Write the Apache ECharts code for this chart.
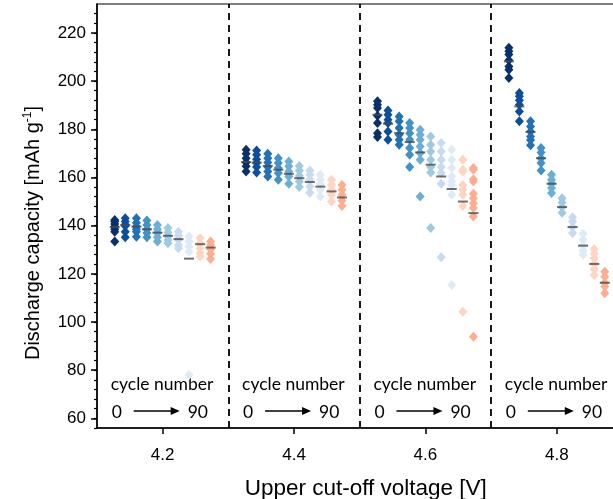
<!DOCTYPE html>
<html><head><meta charset="utf-8">
<script src="https://cdn.jsdelivr.net/npm/echarts@6/dist/echarts.min.js"></script>
<style>html,body{margin:0;padding:0;background:#fff}#c{width:613px;height:499px}</style>
</head><body><div id="c"></div>
<script>
// ---- data ----
const voltages = [4.2, 4.4, 4.6, 4.8];
const cycleNumbers = [0, 10, 20, 30, 40, 50, 60, 70, 80, 90];
const cycleOffsets = [-0.073, -0.057, -0.040, -0.024, -0.008, 0.008, 0.024, 0.040, 0.057, 0.073];

const cap42 = [
  [142.3, 141.7, 140.7, 139.6, 138.5, 137.5, 133.4],
  [143.1, 141.7, 140.5, 139.9, 137.5, 135.2],
  [143.1, 141.2, 139.6, 138.5, 137.5, 135.4],
  [142.1, 140.3, 138.5, 136.9, 135.2],
  [140.3, 138.5, 136.9, 135.2, 133.4],
  [139.0, 137.1, 135.5, 134.0, 132.7],
  [137.5, 135.8, 134.1, 132.0, 130.6],
  [135.5, 133.4, 131.3, 129.2, 78.0],
  [134.8, 132.7, 130.6, 128.6, 127.2],
  [133.4, 132.0, 130.2, 128.3, 126.1]
];
const mean42 = [139.4, 140.2, 139.6, 138.5, 137.1, 135.8, 134.4, 126.3, 132.3, 130.9];

const cap44 = [
  [171.5, 169.8, 168.0, 166.2, 164.6, 162.5],
  [171.2, 169.4, 167.6, 166.0, 164.3, 162.1],
  [169.8, 168.0, 166.2, 164.3, 162.5, 160.4],
  [168.0, 166.0, 163.9, 161.8, 159.0],
  [166.6, 164.6, 162.5, 160.4, 157.4],
  [164.8, 162.9, 160.7, 158.3, 156.0],
  [162.9, 161.1, 159.0, 156.2, 153.7],
  [161.1, 159.0, 157.4, 154.9, 152.1],
  [159.0, 156.9, 154.9, 152.8, 150.0],
  [156.9, 154.9, 152.8, 150.4, 148.2]
];
const mean44 = [166.4, 166.2, 164.8, 163.2, 161.5, 159.7, 158.1, 156.2, 154.2, 151.7];

const cap46 = [
  [191.6, 190.2, 188.8, 185.6, 182.6, 178.4, 176.8],
  [187.8, 186.0, 184.0, 182.6, 179.1, 175.7],
  [185.3, 183.3, 180.5, 177.7, 175.7, 173.6],
  [182.6, 180.5, 178.4, 175.7, 172.2, 169.4, 164.3],
  [179.8, 177.7, 175.7, 172.9, 170.1, 167.3, 152.1],
  [177.0, 173.6, 170.8, 167.3, 164.3, 162.1, 139.0],
  [174.3, 170.8, 167.3, 164.3, 161.8, 157.4, 126.9],
  [171.5, 167.3, 163.9, 160.4, 158.3, 156.9, 152.8, 115.4],
  [167.3, 163.2, 162.5, 156.9, 154.9, 152.8, 148.2, 104.3],
  [163.9, 163.2, 159.3, 158.3, 153.2, 151.4, 149.3, 147.3, 143.8, 93.9]
];
const mean46 = [186.0, 182.3, 178.4, 174.7, 170.4, 165.3, 160.4, 155.2, 150.0, 145.2];

const cap48 = [
  [213.8, 212.4, 211.0, 208.6, 206.1, 204.7, 201.3],
  [195.1, 193.7, 192.0, 190.2, 187.4, 183.3],
  [183.3, 181.2, 179.1, 177.0, 175.5, 173.4],
  [172.2, 170.4, 168.0, 166.0, 162.9],
  [161.1, 159.0, 157.4, 155.6, 153.5],
  [151.4, 149.6, 147.7, 145.4],
  [143.5, 141.7, 139.4, 136.9],
  [136.6, 134.1, 131.7, 129.6, 127.9],
  [130.2, 128.3, 126.5, 124.1, 121.9, 119.5],
  [120.9, 118.8, 116.3, 114.7, 111.9]
];
const mean48 = [208.2, 189.5, 178.9, 168.0, 157.4, 147.7, 139.4, 131.7, 124.1, 116.3];

const dividers = [4.3, 4.505, 4.7];
const xTicks = [4.2, 4.4, 4.6, 4.8];
const yTicks = [60, 80, 100, 120, 140, 160, 180, 200, 220];
const yMinorTicks = [];
for (let t = 56; t <= 228; t += 4) yMinorTicks.push(t);

// ---- style ----
const cycleColors = ['#08306b', '#0b4f9c', '#2171b5', '#4292c6', '#6baed6',
                     '#9ecae1', '#c6dbef', '#deebf7', '#fdd5c0', '#fcae91'];
const axisFont = 'Liberation Sans, Arial, sans-serif';
const noteFont = 'Lato, Carlito, sans-serif';

const caps = [cap42, cap44, cap46, cap48];
const means = [mean42, mean44, mean46, mean48];

const series = [];
cycleNumbers.forEach((cn, i) => {
  const data = [];
  voltages.forEach((v, k) => {
    caps[k][i].forEach(y => data.push([v + cycleOffsets[i], y]));
  });
  series.push({
    name: 'cycle ' + cn, type: 'scatter', data,
    symbol: 'diamond', symbolSize: [9, 10],
    itemStyle: { color: cycleColors[i], opacity: 1 },
    z: 2, silent: true
  });
});
const meanData = [];
voltages.forEach((v, k) => means[k].forEach((m, i) => meanData.push([v + cycleOffsets[i], m])));
series.push({
  name: 'mean', type: 'scatter', data: meanData, symbol: 'rect', symbolSize: [10, 2],
  itemStyle: { color: '#4a4a4a' }, z: 5, silent: true
});
series.push({
  name: 'dividers', type: 'scatter', data: [], silent: true,
  markLine: {
    symbol: 'none', silent: true, label: { show: false },
    lineStyle: { color: '#000', type: [7, 5], width: 1.8 },
    data: dividers.map(x => ({ xAxis: x }))
  }
});

const chart = echarts.init(document.getElementById('c'), null, { renderer: 'canvas' });
chart.setOption({
  animation: false,
  grid: { left: 97, top: 4, width: 525.5, height: 424, outerBoundsMode: 'none', containLabel: false,
          show: true, borderColor: '#000', borderWidth: 1.2, backgroundColor: 'transparent' },
  xAxis: {
    type: 'value', min: 4.1, max: 4.9,
    name: 'Upper cut-off voltage [V]', nameLocation: 'middle', nameGap: 49,
    nameTextStyle: { fontFamily: axisFont, fontSize: 22.5, color: '#000', padding: [0, 0, 0, 12] },
    axisLine: { show: true, lineStyle: { color: '#000', width: 1.5 } },
    axisTick: { show: true, inside: false, length: 6, customValues: xTicks, lineStyle: { color: '#000', width: 1.5 } },
    axisLabel: { customValues: xTicks, fontFamily: axisFont, fontSize: 17, color: '#000', margin: 19, formatter: v => v.toFixed(1) },
    splitLine: { show: false }
  },
  yAxis: [{
    type: 'value', min: 56, max: 232, position: 'left',
    name: 'Discharge capacity [mAh g{sup|-1}]', nameLocation: 'middle', nameGap: 53,
    nameTextStyle: { fontFamily: axisFont, fontSize: 20, color: '#000', padding: [0, 34, 0, 0],
      rich: { sup: { fontFamily: axisFont, fontSize: 12, color: '#000', padding: [0, 0, 10, 0] } } },
    axisLine: { show: true, lineStyle: { color: '#000', width: 1.5 } },
    axisTick: { show: true, length: 6, customValues: yTicks, lineStyle: { color: '#000', width: 1.5 } },
    axisLabel: { customValues: yTicks, fontFamily: axisFont, fontSize: 17, color: '#000', margin: 11 },
    splitLine: { show: false }
  }, {
    type: 'value', min: 56, max: 232, position: 'left',
    axisLine: { show: false },
    axisTick: { show: true, length: 3, customValues: yMinorTicks, lineStyle: { color: '#000', width: 1.2 } },
    axisLabel: { show: false },
    splitLine: { show: false }
  }],
  series
});

// annotations: "cycle number" and "0 → 90" under each group
const graphics = [];
const nf = '17.5px ' + noteFont;
voltages.forEach(v => {
  const cx = chart.convertToPixel({ gridIndex: 0 }, [v, 100])[0];
  graphics.push({ type: 'text', x: cx - 52, y: 384, style: { text: 'cycle number', font: nf, fill: '#000', verticalAlign: 'middle' } });
  graphics.push({ type: 'text', x: cx - 51, y: 412, style: { text: '0', font: nf, fill: '#000', verticalAlign: 'middle' } });
  graphics.push({ type: 'text', x: cx + 25, y: 412, style: { text: '90', font: nf, fill: '#000', verticalAlign: 'middle' } });
  graphics.push({ type: 'line', shape: { x1: cx - 29, y1: 411, x2: cx + 10, y2: 411 }, style: { stroke: '#000', lineWidth: 1.5 } });
  graphics.push({ type: 'polygon', shape: { points: [[cx + 8, 407], [cx + 17, 411], [cx + 8, 415]] }, style: { fill: '#000' } });
});
chart.setOption({ graphic: graphics });
</script>
</body></html>
